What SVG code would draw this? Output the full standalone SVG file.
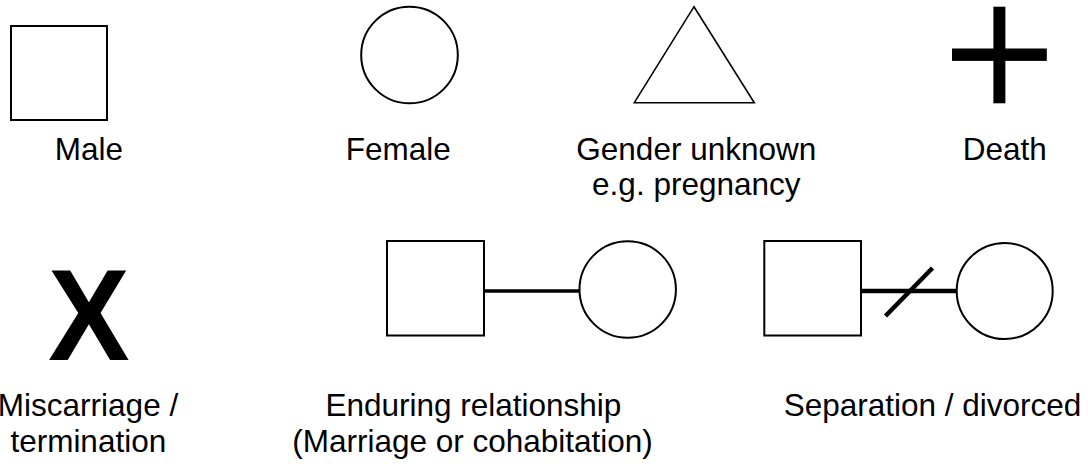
<svg xmlns="http://www.w3.org/2000/svg" width="1088" height="464" viewBox="0 0 1088 464">
<style>
.shape{fill:#fff;stroke:#000;stroke-width:2}
.thin{fill:#fff;stroke:#000;stroke-width:1.6}
.lbl{font-family:"Liberation Sans",Arial,sans-serif;font-size:31.5px;fill:#000;text-anchor:middle}
.bar{fill:#000}
.link{stroke:#000;stroke-width:3.5;fill:none}
.link2{stroke:#000;stroke-width:4.5;fill:none}
</style>
<rect width="1088" height="464" fill="#fff"/>
<g id="connectors">
<line class="link" x1="484" y1="291" x2="580" y2="291"/>
<line class="link2" x1="861" y1="291" x2="957" y2="291"/>
<line class="link2" x1="885.5" y1="316" x2="932.5" y2="268"/>
</g>
<g id="male">
<rect class="shape" x="11" y="26" width="96" height="94"/>
<text class="lbl" x="88.8" y="160">Male</text>
</g>
<g id="female">
<circle class="shape" cx="409.5" cy="55" r="48.3"/>
<text class="lbl" x="398.3" y="160">Female</text>
</g>
<g id="gender-unknown">
<polygon class="thin" points="694,6.7 754.3,102.7 634.3,102.7"/>
<text class="lbl" x="696.3" y="159.5">Gender unknown</text>
<text class="lbl" x="696.3" y="194.5">e.g. pregnancy</text>
</g>
<g id="death">
<rect class="bar" x="993.4" y="6.7" width="12" height="96.6"/>
<rect class="bar" x="952" y="48.5" width="94.8" height="12.4"/>
<text class="lbl" x="1004.7" y="160">Death</text>
</g>
<g id="miscarriage">
<text transform="translate(88.8,360) scale(0.95,1)" x="0" y="0" style="font-family:'Liberation Sans',Arial,sans-serif;font-weight:bold;font-size:129px;text-anchor:middle">X</text>
<text class="lbl" x="88" y="416">Miscarriage /</text>
<text class="lbl" x="88.3" y="451.5">termination</text>
</g>
<g id="enduring-male">
<rect class="shape" x="387" y="241" width="97" height="94.5"/>
</g>
<g id="enduring-female">
<circle class="shape" cx="627.7" cy="289.5" r="48.2"/>
</g>
<g id="enduring-label">
<text class="lbl" x="473.4" y="416">Enduring relationship</text>
<text class="lbl" x="472.5" y="451.5">(Marriage or cohabitation)</text>
</g>
<g id="separated-male">
<rect class="shape" x="764.3" y="241" width="96.7" height="94.5"/>
</g>
<g id="separated-female">
<circle class="shape" cx="1004.7" cy="291" r="48"/>
</g>
<g id="separation-label">
<text class="lbl" x="932.5" y="416">Separation / divorced</text>
</g>
</svg>
